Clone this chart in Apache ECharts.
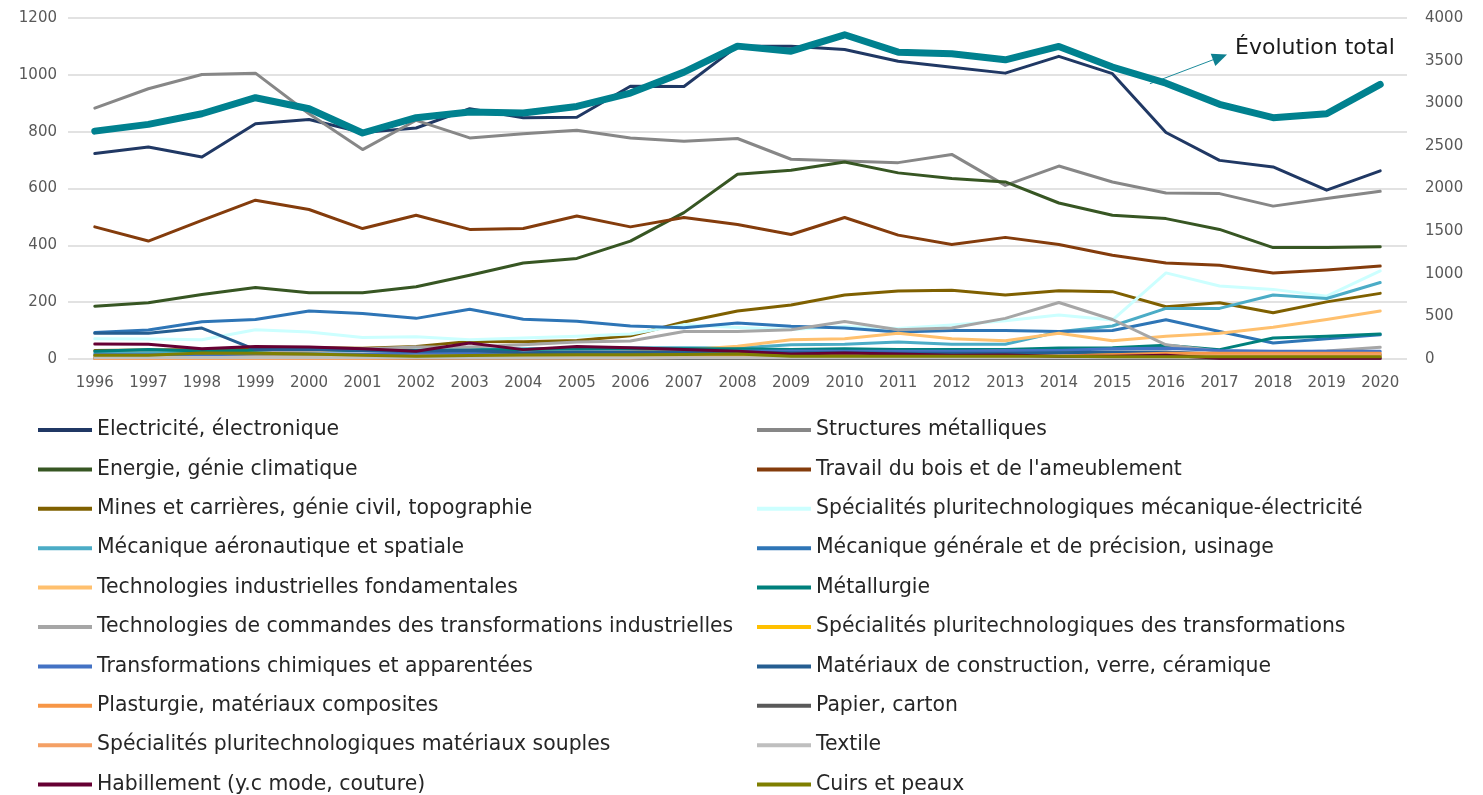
<!DOCTYPE html>
<html>
<head>
<meta charset="utf-8">
<script src="https://cdn.jsdelivr.net/npm/echarts@6/dist/echarts.min.js"></script>
<style>
html,body{margin:0;padding:0;background:#fff;}
#c{width:1483px;height:795px;}
</style>
</head>
<body>
<div id="c"></div>
<script>
const years = ['1996','1997','1998','1999','2000','2001','2002','2003','2004','2005','2006','2007','2008','2009','2010','2011','2012','2013','2014','2015','2016','2017','2018','2019','2020'];
const leftTicks = [0, 200, 400, 600, 800, 1000, 1200];
const rightTicks = [0, 500, 1000, 1500, 2000, 2500, 3000, 3500, 4000];

const elec      = [723, 746, 711, 828, 843, 797, 813, 881, 849, 851, 960, 959, 1101, 1101, 1089, 1048, 1027, 1006, 1065, 1004, 797, 699, 676, 594, 662];
const structMet = [883, 951, 1001, 1006, 863, 737, 840, 778, 793, 805, 778, 766, 776, 703, 697, 691, 720, 611, 679, 623, 584, 582, 538, 565, 590];
const energie   = [186, 198, 227, 252, 233, 233, 254, 295, 338, 354, 415, 515, 650, 664, 693, 655, 635, 623, 549, 506, 494, 456, 392, 392, 395];
const bois      = [465, 415, 488, 559, 526, 459, 506, 456, 459, 503, 465, 498, 473, 438, 498, 436, 403, 428, 403, 365, 338, 330, 303, 313, 327];
const mines     = [30, 32, 33, 38, 40, 38, 44, 62, 61, 65, 82, 130, 169, 190, 225, 239, 242, 225, 240, 237, 184, 198, 163, 201, 231];
const pluriMecaElec = [71, 70, 68, 103, 95, 76, 78, 68, 74, 80, 88, 121, 111, 104, 114, 107, 120, 135, 155, 137, 303, 257, 245, 221, 310];
const aero      = [20, 22, 24, 26, 28, 30, 32, 34, 36, 38, 40, 40, 39, 50, 52, 60, 52, 52, 96, 116, 178, 178, 225, 213, 269];
const mecaGen   = [93, 102, 131, 139, 169, 160, 143, 175, 140, 133, 116, 110, 127, 115, 109, 95, 100, 100, 97, 100, 138, 97, 56, 71, 85];
const techFond  = [10, 10, 12, 12, 14, 14, 15, 15, 18, 20, 25, 32, 45, 68, 71, 91, 71, 64, 91, 64, 80, 91, 112, 139, 169];
const metallurgie = [27, 33, 28, 30, 32, 30, 30, 32, 33, 35, 36, 36, 36, 33, 36, 33, 33, 33, 39, 40, 48, 33, 74, 80, 88];
const techCmd   = [8, 10, 15, 20, 28, 35, 42, 42, 50, 60, 63, 97, 97, 103, 132, 103, 109, 143, 199, 139, 50, 27, 22, 28, 41];
const pluriTransf = [5, 5, 6, 6, 8, 8, 8, 10, 10, 12, 12, 14, 15, 18, 20, 22, 25, 28, 25, 22, 18, 10, 8, 8, 10];
const chimie    = [15, 15, 15, 18, 18, 18, 20, 20, 20, 22, 22, 25, 27, 28, 27, 27, 27, 30, 30, 36, 38, 30, 27, 27, 27];
const materiaux = [91, 91, 109, 33, 34, 30, 27, 30, 22, 25, 25, 25, 25, 22, 22, 20, 20, 20, 22, 25, 25, 18, 15, 15, 15];
const plasturgie = [3, 3, 3, 4, 4, 5, 8, 8, 8, 8, 8, 10, 10, 8, 8, 8, 8, 10, 10, 15, 20, 20, 20, 20, 20];
const souples   = [2, 2, 2, 2, 2, 2, 3, 3, 3, 3, 3, 5, 5, 5, 5, 5, 5, 5, 5, 8, 10, 12, 15, 15, 15];
const papier    = [3, 3, 3, 3, 3, 3, 2, 2, 2, 2, 2, 2, 2, 2, 2, 2, 2, 2, 2, 2, 2, 2, 2, 2, 2];
const textile   = [5, 5, 5, 5, 5, 5, 5, 4, 4, 4, 4, 4, 4, 4, 4, 4, 4, 4, 4, 4, 4, 4, 4, 4, 4];
const habillement = [53, 52, 36, 44, 42, 36, 27, 56, 33, 44, 40, 33, 27, 18, 21, 18, 13, 14, 10, 10, 13, 3, 3, 3, 3];
const cuirs     = [13, 13, 21, 20, 18, 13, 10, 12, 14, 15, 15, 16, 18, 10, 10, 10, 10, 10, 10, 8, 8, 8, 8, 8, 8];
const total     = [2673, 2752, 2877, 3065, 2936, 2651, 2831, 2897, 2885, 2963, 3119, 3365, 3670, 3611, 3803, 3599, 3580, 3510, 3666, 3424, 3236, 2987, 2831, 2877, 3221];

const seriesNames = [
  'Electricité, électronique', 'Structures métalliques',
  'Energie, génie climatique', "Travail du bois et de l'ameublement",
  'Mines et carrières, génie civil, topographie', 'Spécialités pluritechnologiques mécanique-électricité',
  'Mécanique aéronautique et spatiale', 'Mécanique générale et de précision, usinage',
  'Technologies industrielles fondamentales', 'Métallurgie',
  'Technologies de commandes des transformations industrielles', 'Spécialités pluritechnologiques des transformations',
  'Transformations chimiques et apparentées', 'Matériaux de construction, verre, céramique',
  'Plasturgie, matériaux composites', 'Papier, carton',
  'Spécialités pluritechnologiques matériaux souples', 'Textile',
  'Habillement (y.c mode, couture)', 'Cuirs et peaux'
];
const seriesData = [elec, structMet, energie, bois, mines, pluriMecaElec, aero, mecaGen, techFond, metallurgie,
  techCmd, pluriTransf, chimie, materiaux, plasturgie, papier, souples, textile, habillement, cuirs];
const seriesColors = ['#203864', '#878787', '#375623', '#843C0C', '#7F6000', '#CCFFFF', '#4BACC6', '#2E75B6', '#FFC06E', '#00807C',
  '#A6A6A6', '#FFC000', '#4472C4', '#255E91', '#F79646', '#595959', '#F4A065', '#BFBFBF', '#660033', '#7F7F00'];
const totalName = 'Évolution total';
const totalColor = '#00818F';

const FONT = 'DejaVu Sans';
const chart = echarts.init(document.getElementById('c'), null, {renderer: 'canvas'});

const series = seriesNames.map((n, i) => ({
  name: n, type: 'line', data: seriesData[i], yAxisIndex: 0,
  symbol: 'none', smooth: false, animation: false,
  lineStyle: {color: seriesColors[i], width: 3, cap: 'round', join: 'round'},
  itemStyle: {color: seriesColors[i]},
  emphasis: {disabled: true}
}));
series.push({
  name: totalName, type: 'line', data: total, yAxisIndex: 1,
  symbol: 'none', animation: false,
  lineStyle: {color: totalColor, width: 7, cap: 'round', join: 'round'},
  itemStyle: {color: totalColor},
  emphasis: {disabled: true}
});

const leftNames = seriesNames.filter((_, i) => i % 2 === 0);
const rightNames = seriesNames.filter((_, i) => i % 2 === 1);
const legendCommon = {
  orient: 'vertical', top: 420, height: 375, padding: 0, icon: 'rect', itemWidth: 54, itemHeight: 4,
  itemGap: 19.4, selectedMode: false,
  textStyle: {fontFamily: FONT, fontSize: 20.4, color: '#262626', lineHeight: 20}
};
const plainNum = v => String(v);

chart.setOption({
  animation: false,
  backgroundColor: '#fff',
  grid: {left: 68, right: 76, top: 18, bottom: 436, containLabel: false},
  xAxis: {
    type: 'category', data: years, boundaryGap: true,
    axisLine: {show: false}, axisTick: {show: false},
    axisLabel: {color: '#595959', fontFamily: FONT, fontSize: 15, margin: 17}
  },
  yAxis: [
    {type: 'value', min: leftTicks[0], max: leftTicks[leftTicks.length - 1], interval: leftTicks[1] - leftTicks[0],
     axisLine: {show: false}, axisTick: {show: false},
     axisLabel: {color: '#595959', fontFamily: FONT, fontSize: 15, margin: 11, formatter: plainNum},
     splitLine: {lineStyle: {color: '#D9D9D9', width: 1.5}}},
    {type: 'value', min: rightTicks[0], max: rightTicks[rightTicks.length - 1], interval: rightTicks[1] - rightTicks[0],
     position: 'right',
     axisLine: {show: false}, axisTick: {show: false},
     axisLabel: {color: '#595959', fontFamily: FONT, fontSize: 15, margin: 18, formatter: plainNum},
     splitLine: {show: false}}
  ],
  legend: [
    Object.assign({}, legendCommon, {left: 38, data: leftNames}),
    Object.assign({}, legendCommon, {left: 757, data: rightNames})
  ],
  series: series
});

// Annotation placed in data space (category index, right-axis value)
function px(idx, val) {
  const i0 = Math.floor(idx), f = idx - i0;
  const a = chart.convertToPixel({xAxisIndex: 0, yAxisIndex: 1}, [i0, val]);
  const b = chart.convertToPixel({xAxisIndex: 0, yAxisIndex: 1}, [i0 + 1, val]);
  return [a[0] + (b[0] - a[0]) * f, a[1]];
}
const p0 = px(19.7, 3229);
const p1 = px(21.14, 3572);
const pt = px(21.29, 3643);
const dx = p1[0] - p0[0], dy = p1[1] - p0[1];
const L = Math.sqrt(dx * dx + dy * dy), ux = dx / L, uy = dy / L;
const headLen = 15, headW = 6.5;
const bx = p1[0] - ux * headLen, by = p1[1] - uy * headLen;
chart.setOption({
  graphic: [
    {type: 'line', silent: true, shape: {x1: p0[0], y1: p0[1], x2: bx, y2: by},
     style: {stroke: '#1E8C9C', lineWidth: 1}},
    {type: 'polygon', silent: true,
     shape: {points: [[p1[0], p1[1]], [bx - uy * headW, by + ux * headW], [bx + uy * headW, by - ux * headW]]},
     style: {fill: '#0E8090'}},
    {type: 'text', silent: true,
     style: {text: totalName, x: pt[0], y: pt[1], fill: '#1a1a1a', fontFamily: FONT, fontSize: 22, verticalAlign: 'middle', align: 'left'}}
  ]
});
</script>
</body>
</html>
